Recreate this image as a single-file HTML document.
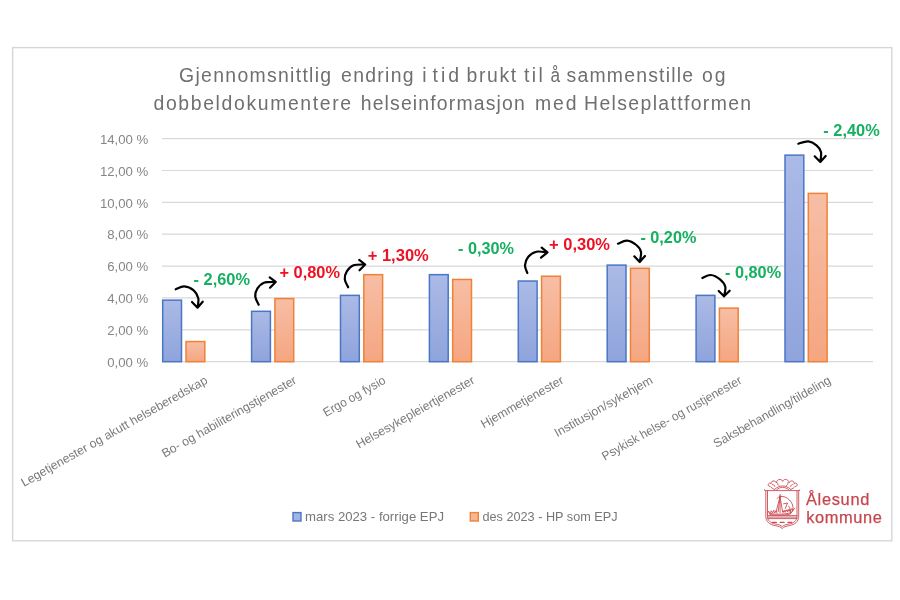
<!DOCTYPE html>
<html><head><meta charset="utf-8"><title>Chart</title>
<style>
html,body{margin:0;padding:0;background:#fff;}
body{width:900px;height:600px;overflow:hidden;font-family:"Liberation Sans",sans-serif;}
svg{display:block;filter:blur(0.4px);font-family:"Liberation Sans",sans-serif;}
.ax{font-size:13.2px;fill:#868686;}
.ti{font-size:19.4px;fill:#6f6f6f;}
.g{font-weight:bold;font-size:16.6px;fill:#16b060;}
.r{font-weight:bold;font-size:16.6px;fill:#ee1122;}
.lg{font-size:13.6px;fill:#777777;}
.cl{font-size:12.3px;fill:#7a7a7a;}
.lo{font-size:16.4px;fill:#c6474c;stroke:#c6474c;stroke-width:0.25px;}
</style></head><body>
<svg width="900" height="600" viewBox="0 0 900 600">
<defs>
<linearGradient id="gb" x1="0" y1="0" x2="0" y2="1"><stop offset="0" stop-color="#abbae6"/><stop offset="1" stop-color="#8fa4dc"/></linearGradient>
<linearGradient id="go" x1="0" y1="0" x2="0" y2="1"><stop offset="0" stop-color="#f7bea5"/><stop offset="1" stop-color="#f5a681"/></linearGradient>
</defs>
<rect x="0" y="0" width="900" height="600" fill="#ffffff"/>
<rect x="12.6" y="47.6" width="879.2" height="493.2" fill="#ffffff" stroke="#d6d6d6" stroke-width="1.4"/>

<line x1="162" y1="361.70" x2="873" y2="361.70" stroke="#d9d9d9" stroke-width="1.2"/>
<text class="ax" x="148.3" y="366.90" text-anchor="end">0,00 %</text>
<line x1="162" y1="329.83" x2="873" y2="329.83" stroke="#d9d9d9" stroke-width="1.2"/>
<text class="ax" x="148.3" y="335.03" text-anchor="end">2,00 %</text>
<line x1="162" y1="297.96" x2="873" y2="297.96" stroke="#d9d9d9" stroke-width="1.2"/>
<text class="ax" x="148.3" y="303.16" text-anchor="end">4,00 %</text>
<line x1="162" y1="266.09" x2="873" y2="266.09" stroke="#d9d9d9" stroke-width="1.2"/>
<text class="ax" x="148.3" y="271.29" text-anchor="end">6,00 %</text>
<line x1="162" y1="234.22" x2="873" y2="234.22" stroke="#d9d9d9" stroke-width="1.2"/>
<text class="ax" x="148.3" y="239.42" text-anchor="end">8,00 %</text>
<line x1="162" y1="202.35" x2="873" y2="202.35" stroke="#d9d9d9" stroke-width="1.2"/>
<text class="ax" x="148.3" y="207.55" text-anchor="end">10,00 %</text>
<line x1="162" y1="170.48" x2="873" y2="170.48" stroke="#d9d9d9" stroke-width="1.2"/>
<text class="ax" x="148.3" y="175.68" text-anchor="end">12,00 %</text>
<line x1="162" y1="138.61" x2="873" y2="138.61" stroke="#d9d9d9" stroke-width="1.2"/>
<text class="ax" x="148.3" y="143.81" text-anchor="end">14,00 %</text>
<rect x="162.70" y="300.15" width="18.8" height="61.55" fill="url(#gb)" stroke="#4a76c6" stroke-width="1.5"/>
<rect x="186.00" y="341.58" width="18.8" height="20.12" fill="url(#go)" stroke="#ee8237" stroke-width="1.5"/>
<rect x="251.60" y="311.31" width="18.8" height="50.39" fill="url(#gb)" stroke="#4a76c6" stroke-width="1.5"/>
<rect x="274.90" y="298.56" width="18.8" height="63.14" fill="url(#go)" stroke="#ee8237" stroke-width="1.5"/>
<rect x="340.50" y="295.37" width="18.8" height="66.33" fill="url(#gb)" stroke="#4a76c6" stroke-width="1.5"/>
<rect x="363.80" y="274.66" width="18.8" height="87.04" fill="url(#go)" stroke="#ee8237" stroke-width="1.5"/>
<rect x="429.40" y="274.66" width="18.8" height="87.04" fill="url(#gb)" stroke="#4a76c6" stroke-width="1.5"/>
<rect x="452.70" y="279.44" width="18.8" height="82.26" fill="url(#go)" stroke="#ee8237" stroke-width="1.5"/>
<rect x="518.30" y="281.03" width="18.8" height="80.67" fill="url(#gb)" stroke="#4a76c6" stroke-width="1.5"/>
<rect x="541.60" y="276.25" width="18.8" height="85.45" fill="url(#go)" stroke="#ee8237" stroke-width="1.5"/>
<rect x="607.20" y="265.10" width="18.8" height="96.60" fill="url(#gb)" stroke="#4a76c6" stroke-width="1.5"/>
<rect x="630.50" y="268.28" width="18.8" height="93.42" fill="url(#go)" stroke="#ee8237" stroke-width="1.5"/>
<rect x="696.10" y="295.37" width="18.8" height="66.33" fill="url(#gb)" stroke="#4a76c6" stroke-width="1.5"/>
<rect x="719.40" y="308.12" width="18.8" height="53.58" fill="url(#go)" stroke="#ee8237" stroke-width="1.5"/>
<rect x="785.00" y="155.14" width="18.8" height="206.56" fill="url(#gb)" stroke="#4a76c6" stroke-width="1.5"/>
<rect x="808.30" y="193.39" width="18.8" height="168.31" fill="url(#go)" stroke="#ee8237" stroke-width="1.5"/>
<text class="ti" x="179.1" y="82.3" textLength="152.0" lengthAdjust="spacing">Gjennomsnittlig</text>
<text class="ti" x="341.1" y="82.3" textLength="72.4" lengthAdjust="spacing">endring</text>
<text class="ti" x="422.3" y="82.3">i</text>
<text class="ti" x="432.5" y="82.3" textLength="26.6" lengthAdjust="spacing">tid</text>
<text class="ti" x="466.5" y="82.3" textLength="49.6" lengthAdjust="spacing">brukt</text>
<text class="ti" x="524.1" y="82.3" textLength="18.6" lengthAdjust="spacing">til</text>
<text class="ti" x="550.4" y="82.3" textLength="9.6" lengthAdjust="spacingAndGlyphs">å</text>
<text class="ti" x="566.5" y="82.3" textLength="126.6" lengthAdjust="spacing">sammenstille</text>
<text class="ti" x="702.1" y="82.3" textLength="23.4" lengthAdjust="spacing">og</text>
<text class="ti" x="153.5" y="110.3" textLength="197.6" lengthAdjust="spacing">dobbeldokumentere</text>
<text class="ti" x="360.7" y="110.3" textLength="164.0" lengthAdjust="spacing">helseinformasjon</text>
<text class="ti" x="535.1" y="110.3" textLength="41.4" lengthAdjust="spacing">med</text>
<text class="ti" x="584.1" y="110.3" textLength="167.0" lengthAdjust="spacing">Helseplattformen</text>
<text class="g" x="193.5" y="284.9" textLength="56.5" lengthAdjust="spacingAndGlyphs">- 2,60%</text>
<text class="r" x="279.5" y="278" textLength="60.5" lengthAdjust="spacingAndGlyphs">+ 0,80%</text>
<text class="r" x="367.7" y="260.9" textLength="61.1" lengthAdjust="spacingAndGlyphs">+ 1,30%</text>
<text class="g" x="458" y="253.5" textLength="56.0" lengthAdjust="spacingAndGlyphs">- 0,30%</text>
<text class="r" x="549" y="249.6" textLength="61.0" lengthAdjust="spacingAndGlyphs">+ 0,30%</text>
<text class="g" x="640.4" y="243" textLength="56.0" lengthAdjust="spacingAndGlyphs">- 0,20%</text>
<text class="g" x="725" y="277.7" textLength="56.1" lengthAdjust="spacingAndGlyphs">- 0,80%</text>
<text class="g" x="823.3" y="136" textLength="56.4" lengthAdjust="spacingAndGlyphs">- 2,40%</text>
<text class="cl" transform="translate(208.4,382.7) rotate(-29.5)" text-anchor="end">Legetjenester og akutt helseberedskap</text>
<text class="cl" transform="translate(297.4,382.7) rotate(-29.5)" text-anchor="end">Bo- og habiliteringstjenester</text>
<text class="cl" transform="translate(386.5,382.7) rotate(-29.5)" text-anchor="end" textLength="69.5" lengthAdjust="spacingAndGlyphs">Ergo og fysio</text>
<text class="cl" transform="translate(475.5,382.7) rotate(-29.5)" text-anchor="end">Helsesykepleiertjenester</text>
<text class="cl" transform="translate(564.6,382.7) rotate(-29.5)" text-anchor="end">Hjemmetjenester</text>
<text class="cl" transform="translate(653.6,382.7) rotate(-29.5)" text-anchor="end">Institusjon/sykehjem</text>
<text class="cl" transform="translate(742.7,382.7) rotate(-29.5)" text-anchor="end" textLength="158.5" lengthAdjust="spacingAndGlyphs">Psykisk helse- og rustjenester</text>
<text class="cl" transform="translate(831.8,382.7) rotate(-29.5)" text-anchor="end">Saksbehandling/tildeling</text>
<rect x="293" y="512.6" width="8" height="8.4" fill="#a3b4e2" stroke="#4a76c6" stroke-width="1.4"/>
<text class="lg" x="305" y="521.2" textLength="139" lengthAdjust="spacingAndGlyphs">mars 2023 - forrige EPJ</text>
<rect x="470.3" y="512.6" width="8" height="8.4" fill="#f7b595" stroke="#ee8237" stroke-width="1.4"/>
<text class="lg" x="482.5" y="521.2" textLength="135" lengthAdjust="spacingAndGlyphs">des 2023 - HP som EPJ</text>
<path d="M175.70,289.30 C177.13,288.80 181.30,286.13 184.30,286.30 C187.30,286.47 191.37,288.30 193.70,290.30 C196.03,292.30 197.67,295.40 198.30,298.30 C198.93,301.20 197.63,306.13 197.50,307.70 M192.00,302.00 L197.50,307.70 L202.70,301.70" fill="none" stroke="#000" stroke-width="2.2" stroke-linecap="round" stroke-linejoin="round"/>
<path d="M258.70,304.70 C258.13,303.37 255.53,299.37 255.30,296.70 C255.07,294.03 255.85,291.03 257.30,288.70 C258.75,286.37 260.93,283.83 264.00,282.70 C267.07,281.57 273.75,282.03 275.70,281.90 M269.70,277.30 L275.70,281.90 L270.00,287.70" fill="none" stroke="#000" stroke-width="2.2" stroke-linecap="round" stroke-linejoin="round"/>
<path d="M348.20,287.30 C347.63,285.97 345.03,281.97 344.80,279.30 C344.57,276.63 345.35,273.63 346.80,271.30 C348.25,268.97 350.43,266.43 353.50,265.30 C356.57,264.17 363.25,264.63 365.20,264.50 M359.20,259.90 L365.20,264.50 L359.50,270.30" fill="none" stroke="#000" stroke-width="2.2" stroke-linecap="round" stroke-linejoin="round"/>
<path d="M527.30,273.00 C526.92,271.72 524.83,268.02 525.00,265.30 C525.17,262.58 526.42,258.97 528.30,256.70 C530.18,254.43 533.10,252.43 536.30,251.70 C539.50,250.97 545.63,252.20 547.50,252.30 M541.70,247.70 L547.50,252.30 L541.00,257.70" fill="none" stroke="#000" stroke-width="2.2" stroke-linecap="round" stroke-linejoin="round"/>
<path d="M618.00,243.70 C619.50,243.20 623.95,240.48 627.00,240.70 C630.05,240.92 633.97,243.12 636.30,245.00 C638.63,246.88 640.43,249.17 641.00,252.00 C641.57,254.83 639.92,260.33 639.70,262.00 M634.30,256.30 L639.70,262.00 L645.00,256.00" fill="none" stroke="#000" stroke-width="2.2" stroke-linecap="round" stroke-linejoin="round"/>
<path d="M702.30,278.00 C703.70,277.50 707.75,274.78 710.70,275.00 C713.65,275.22 717.57,277.35 720.00,279.30 C722.43,281.25 724.63,283.87 725.30,286.70 C725.97,289.53 724.22,294.70 724.00,296.30 M718.70,291.00 L724.00,296.30 L729.70,290.70" fill="none" stroke="#000" stroke-width="2.2" stroke-linecap="round" stroke-linejoin="round"/>
<path d="M798.30,143.70 C799.97,143.30 805.27,141.03 808.30,141.30 C811.33,141.57 814.38,143.52 816.50,145.30 C818.62,147.08 820.37,149.22 821.00,152.00 C821.63,154.78 820.42,160.33 820.30,162.00 M814.70,156.30 L820.30,162.00 L825.70,156.00" fill="none" stroke="#000" stroke-width="2.2" stroke-linecap="round" stroke-linejoin="round"/>

<g fill="none" stroke="#cb4c55" stroke-width="0.9" stroke-linecap="round" stroke-linejoin="round">
<!-- shield outer -->
<path d="M764.4,489.9 L765.8,491.2 L765.8,516.5 C765.8,521.5 769.5,524.6 775,525.6 C778.6,526.2 780.8,526.9 782.2,528.6 C783.6,526.9 785.8,526.2 789.4,525.6 C794.9,524.6 798.7,521.5 798.7,516.5 L798.7,491.2 L800.1,489.9 L798.9,490.6 L765.6,490.6 Z"/>
<!-- shield inner -->
<path d="M767.5,491 L767.5,516.4 C767.5,520.6 770.7,523.2 775.4,524 C778.7,524.6 780.9,525.3 782.2,526.6 C783.5,525.3 785.7,524.6 789,524 C793.7,523.2 797,520.6 797,516.4 L797,491"/>
<!-- crown -->
<path d="M774.6,489.4 C772.8,488.8 771.2,487.6 770.2,486.4 C768.6,486.6 767.6,485.2 768.4,484 C769.2,482.8 770.6,483 771.2,483.8 C770.8,482 772.4,480.6 774.2,481 C775.4,481.2 776.2,482 776.4,483 C776.4,480.8 778.2,479.2 780.2,479.4 C781.6,479.6 782.4,480.4 782.7,481.4 C783,480.4 783.8,479.6 785.2,479.4 C787.2,479.2 789,480.8 789,483 C789.2,482 790,481.2 791.2,481 C793,480.6 794.6,482 794.2,483.8 C794.8,483 796.2,482.8 797,484 C797.8,485.2 796.8,486.6 795.2,486.4 C794.2,487.6 792.6,488.8 790.8,489.4"/>
<path d="M774.6,489.4 C777,487.2 779.8,486 782.7,486 C785.6,486 788.4,487.2 790.8,489.4"/>
<path d="M776.6,489.9 C778.6,488.2 780.6,487.3 782.7,487.3 C784.8,487.3 786.8,488.2 788.8,489.9"/>
<path d="M772.4,484.6 C773.6,484.4 774.6,485.2 774.8,486.4 M777.6,483 C777.4,484.2 778,485.2 779,485.6 M787.8,483 C788,484.2 787.4,485.2 786.4,485.6 M793,484.6 C791.8,484.4 790.8,485.2 790.6,486.4"/>
<!-- ship mast and rigging -->
<path d="M780.1,494.4 L780.1,512.6 M779.2,496.2 L781.2,496.2 M780.1,496.4 L776.3,511 M780.1,496.4 L778.2,511.6 M780.1,497.2 L782.6,511.6 M777,498.6 C778,497.4 779.2,497 780.1,497"/>
<!-- sail -->
<path d="M780.6,496.6 C785.4,495.6 790.6,499.6 792.6,505 C793.6,508.2 792.6,511.6 790.2,514.2 C791,511 790.4,508.4 788.6,506.2"/>
<path d="M783.6,503.8 L787.6,503 L785.2,508.4 M782.6,511.6 C785,510.6 787.6,510 790,509.8"/>
<!-- hull -->
<path d="M768.6,511.6 L769.8,514.4 C775,515.6 784,515.4 789.6,514.2 C791.8,512.6 793.2,510.6 794.2,508.6 M768.6,511.6 L770.6,512.8 L771.2,510.8 L772.6,513 L773.6,510.2 L774.8,513 L776,510.6 L777,513 M783,512.6 L784.2,510.4 L785.2,512.4 L786.6,509.8 L787.6,512 L789,509.4 L790,511.6 L791.6,508.6 L792.4,510.4 L794.2,508.6"/>
<path d="M770.4,513.6 C776,514.6 784,514.4 789.8,513"/>
<!-- waves -->
<path d="M767.6,515.6 L797,515.6 M767.6,517.1 L797,517.1 M767.6,518.6 L797,518.6"/>
<!-- fishes -->
<path d="M772.6,522.4 L776.4,522.4 M780.2,522.4 L784.2,522.4 M788,522.4 L791.8,522.4" stroke-width="1.2"/>
</g>
<text class="lo" x="806" y="505" textLength="63.3" lengthAdjust="spacing">Ålesund</text>
<text class="lo" x="806.3" y="522.5" textLength="75.6" lengthAdjust="spacing">kommune</text>

</svg></body></html>
